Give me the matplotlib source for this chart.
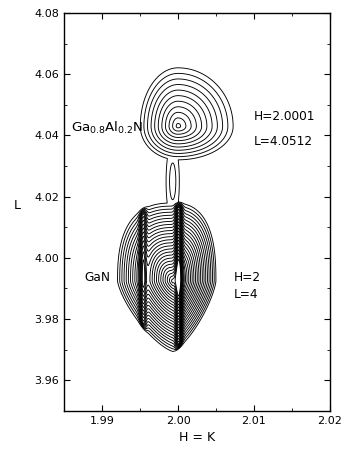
import numpy as np
import matplotlib
matplotlib.use("Agg")
import matplotlib.pyplot as plt
from matplotlib.ticker import MultipleLocator

# === PEAKS ===
peak_names = ["Ga0.8Al0.2N", "GaN"]
peak_H = [2.0000, 1.9993]
peak_L = [4.043, 3.9924]
peak_left = [0.0052, 0.0074]    # half width toward low H at outermost contour
peak_right = [0.0076, 0.0058]   # half width toward high H
peak_up = [0.020, 0.026]
peak_down = [0.0115, 0.0234]
peak_rings = [11, 26]           # number of contour rings
peak_pow_up = [2.0, 2.6]        # flatter top of GaN
peak_pow_low = [2.0, 1.35]      # pointed bottom of GaN

# neck between the two peaks
bridge_H, bridge_L = 1.9993, 4.025
bridge_wH, bridge_wL = 0.0011, 0.016
bridge_rings = 2.4

# dense streaks across the GaN peak
streak_H = [1.9954, 2.0001]
streak_amp = [6.0, 8.0]
streak_w = 0.0004

levels = np.arange(0.5, 27, 1.0)

H = np.linspace(1.985, 2.02, 900)
L = np.linspace(3.95, 4.08, 1400)
HH, LL = np.meshgrid(H, L)


def peak_field(i):
    dh = HH - peak_H[i]
    dl = LL - peak_L[i]
    sx = np.where(dh < 0, peak_left[i], peak_right[i])
    sy = np.where(dl > 0, peak_up[i], peak_down[i])
    p = np.where(dl > 0, peak_pow_up[i], peak_pow_low[i])
    r = (np.abs(dh / sx) ** p + np.abs(dl / sy) ** p) ** (1.0 / p)
    return peak_rings[i] * (1 - r)


upper = peak_field(0)
lower = peak_field(1)
rb = np.sqrt(((HH - bridge_H) / bridge_wH) ** 2 + ((LL - bridge_L) / bridge_wL) ** 2)
bridge = bridge_rings * (1 - rb)

mask = np.clip(lower / 2.0, 0, 1)
for h0, a in zip(streak_H, streak_amp):
    lower = lower + a * mask * np.exp(-((HH - h0) / streak_w) ** 2)

field = np.maximum(np.maximum(upper, lower), bridge)

# === PLOTTING ===
fig = plt.figure(figsize=(3.54, 4.49), dpi=100)
ax = fig.add_axes([0.181, 0.085, 0.751, 0.886])
ax.contour(HH, LL, field, levels=levels, colors="black", linewidths=0.65)

ax.set_xlim(1.985, 2.02)
ax.set_ylim(3.95, 4.08)
ax.xaxis.set_major_locator(MultipleLocator(0.01))
ax.xaxis.set_minor_locator(MultipleLocator(0.005))
ax.yaxis.set_major_locator(MultipleLocator(0.02))
ax.yaxis.set_minor_locator(MultipleLocator(0.01))
ax.xaxis.set_major_formatter(plt.FuncFormatter(lambda v, p: f"{v:.2f}"))
ax.yaxis.set_major_formatter(plt.FuncFormatter(lambda v, p: f"{v:.2f}"))
ax.tick_params(which="both", direction="in", top=True, right=True, labelsize=8)
ax.tick_params(which="major", length=4)
ax.tick_params(which="minor", length=2)
for s in ax.spines.values():
    s.set_linewidth(1.0)

ax.set_xlabel("H = K", fontsize=9, labelpad=4)
ax.set_ylabel("L", fontsize=9, rotation=0, labelpad=12)

ax.text(1.9859, 4.0425, r"Ga$_{0.8}$Al$_{0.2}$N", fontsize=9.6, va="center")
ax.text(2.0100, 4.0461, "H=2.0001", fontsize=8.7, va="center")
ax.text(2.0100, 4.0380, "L=4.0512", fontsize=8.7, va="center")
ax.text(1.9877, 3.9937, "GaN", fontsize=8.7, va="center")
ax.text(2.0074, 3.9937, "H=2", fontsize=8.7, va="center")
ax.text(2.0074, 3.9880, "L=4", fontsize=8.7, va="center")

fig.savefig("out.png", dpi=100)
